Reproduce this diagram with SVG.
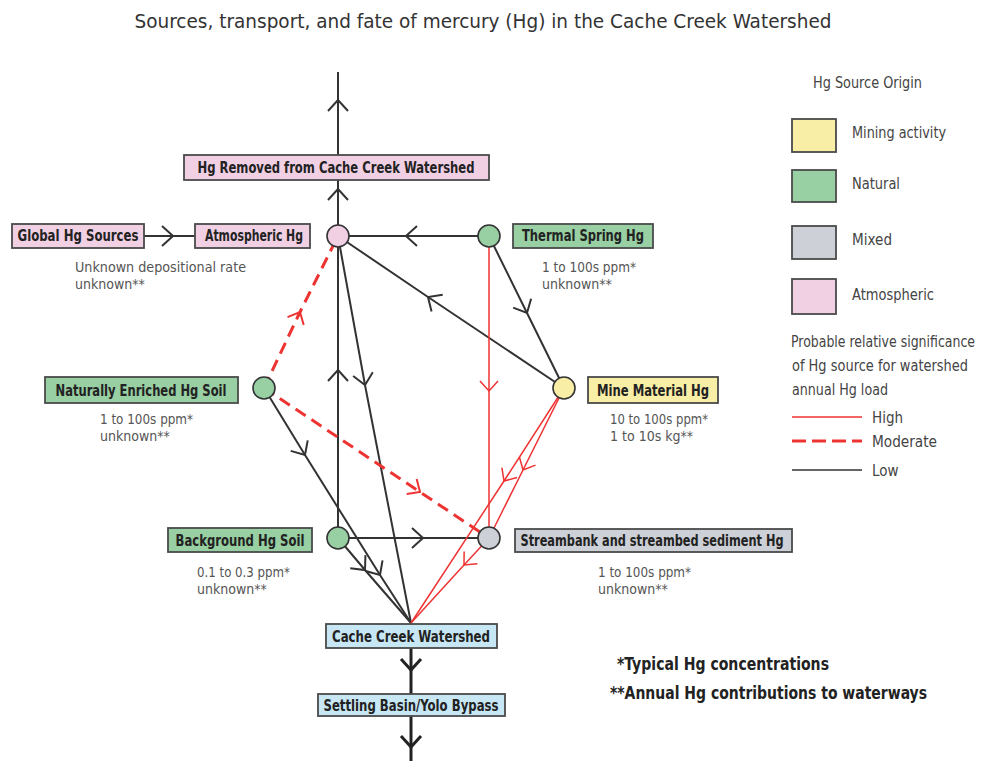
<svg xmlns="http://www.w3.org/2000/svg" width="986" height="761" viewBox="0 0 986 761">
<style>
.t{font-family:"Liberation Sans Narrow","DejaVu Sans Condensed","Liberation Sans",sans-serif;}
.lbl{font-size:15px;font-weight:bold;fill:#222;text-anchor:middle;}
.sub{font-size:14px;fill:#555;}
.leg{font-size:15px;fill:#444;}
.box{stroke:#4a4a4a;stroke-width:1.8;}
.circ{stroke:#333;stroke-width:1.6;}
.green{fill:#98cfa3;}
.pink{fill:#f1d0e4;}
.yellow{fill:#f8eea6;}
.gray{fill:#cdd0d6;}
.blue{fill:#c7e7f4;}
.blk{stroke:#333;stroke-width:2;fill:none;marker-mid:url(#chevK);}
.red{stroke:#ee3333;stroke-width:1.5;fill:none;marker-mid:url(#chevR);}
.dash{stroke:#ee3333;stroke-width:3;stroke-dasharray:12 7;fill:none;marker-mid:url(#chevR2);}
.thick{stroke:#222;stroke-width:3;fill:none;marker-mid:url(#chevT);}
</style>
<defs>
<marker id="chevK" markerUnits="userSpaceOnUse" markerWidth="30" markerHeight="30" refX="0" refY="0" viewBox="-15 -15 30 30" orient="auto" overflow="visible">
<path d="M-11,-10 L0,0 L-11,10" fill="none" stroke="#333" stroke-width="2"/>
</marker>
<marker id="chevT" markerUnits="userSpaceOnUse" markerWidth="30" markerHeight="30" refX="0" refY="0" viewBox="-15 -15 30 30" orient="auto" overflow="visible">
<path d="M-11,-10 L0,0 L-11,10" fill="none" stroke="#222" stroke-width="3"/>
</marker>
<marker id="chevR" markerUnits="userSpaceOnUse" markerWidth="30" markerHeight="30" refX="0" refY="0" viewBox="-15 -15 30 30" orient="auto" overflow="visible">
<path d="M-10,-9 L0,0 L-10,9" fill="none" stroke="#ee3333" stroke-width="1.5"/>
</marker>
<marker id="chevR2" markerUnits="userSpaceOnUse" markerWidth="30" markerHeight="30" refX="0" refY="0" viewBox="-15 -15 30 30" orient="auto" overflow="visible">
<path d="M-10,-9 L0,0 L-10,9" fill="none" stroke="#ee3333" stroke-width="2"/>
</marker>
</defs>
<rect width="986" height="761" fill="#fff"/>
<text class="t" x="483" y="28" font-size="20" fill="#333" text-anchor="middle" textLength="697" lengthAdjust="spacingAndGlyphs">Sources, transport, and fate of mercury (Hg) in the Cache Creek Watershed</text>

<g id="connectors">
<path class="blk" d="M338,236 L338,189 L338,180"/>
<path class="blk" d="M338,155 L338,100 L338,72"/>
<path class="blk" d="M144,236 L173,236 L195,236"/>
<path class="blk" d="M489,236 L406,236 L338,236"/>
<path class="blk" d="M564,388 L428,297 L338,236"/>
<path class="blk" d="M489,236 L527,313 L564,388"/>
<path class="blk" d="M338,538 L338,370 L338,236"/>
<path class="blk" d="M338,236 L365,385 L411,623"/>
<path class="blk" d="M264,388 L305,455 L380,575 L411,623"/>
<path class="blk" d="M338,538 L365,570 L411,623"/>
<path class="blk" d="M338,538 L423,538 L489,538"/>
<path class="red" d="M489,236 L489,391 L489,538"/>
<path class="red" d="M564,388 L504,481 L411,623"/>
<path class="red" d="M564,388 L523,470 L489,538"/>
<path class="red" d="M489,538 L464,565 L411,623"/>
<path class="dash" d="M264,388 L300,312 L338,236"/>
<path class="dash" d="M264,388 L420,492 L489,538"/>
<path class="thick" d="M411,648 L411,670 L411,694"/>
<path class="thick" d="M411,716 L411,747 L411,761"/>
</g>

<g id="hg-removed"><rect class="box pink" x="184" y="155" width="305" height="25"/><text class="t lbl" x="336" y="173" textLength="277" lengthAdjust="spacingAndGlyphs">Hg Removed from Cache Creek Watershed</text></g>
<g id="global"><rect class="box pink" x="12" y="224" width="132" height="24"/><text class="t lbl" x="78" y="241" textLength="121" lengthAdjust="spacingAndGlyphs">Global Hg Sources</text></g>
<g id="atmospheric"><rect class="box pink" x="195" y="224" width="115" height="24"/><text class="t lbl" x="254" y="241" textLength="98" lengthAdjust="spacingAndGlyphs">Atmospheric Hg</text>
<circle class="circ pink" cx="338" cy="236" r="11"/>
<text class="t sub" x="75" y="272" textLength="171" lengthAdjust="spacingAndGlyphs">Unknown depositional rate</text>
<text class="t sub" x="75" y="289">unknown**</text></g>
<g id="thermal"><rect class="box green" x="513" y="224" width="140" height="24"/><text class="t lbl" x="583" y="241" textLength="122" lengthAdjust="spacingAndGlyphs">Thermal Spring Hg</text>
<circle class="circ green" cx="489" cy="236" r="11"/>
<text class="t sub" x="542" y="272" textLength="94" lengthAdjust="spacingAndGlyphs">1 to 100s ppm*</text>
<text class="t sub" x="542" y="289">unknown**</text></g>
<g id="enriched"><rect class="box green" x="45" y="377" width="193" height="26"/><text class="t lbl" x="141" y="396" textLength="171" lengthAdjust="spacingAndGlyphs">Naturally Enriched Hg Soil</text>
<circle class="circ green" cx="264" cy="388" r="11"/>
<text class="t sub" x="100" y="424" textLength="93" lengthAdjust="spacingAndGlyphs">1 to 100s ppm*</text>
<text class="t sub" x="100" y="441">unknown**</text></g>
<g id="mine"><rect class="box yellow" x="588" y="377" width="130" height="26"/><text class="t lbl" x="653" y="396" textLength="112" lengthAdjust="spacingAndGlyphs">Mine Material Hg</text>
<circle class="circ yellow" cx="564" cy="388" r="11"/>
<text class="t sub" x="610" y="424" textLength="98" lengthAdjust="spacingAndGlyphs">10 to 100s ppm*</text>
<text class="t sub" x="610" y="441">1 to 10s kg**</text></g>
<g id="background"><rect class="box green" x="168" y="528" width="144" height="24"/><text class="t lbl" x="240" y="546" textLength="129" lengthAdjust="spacingAndGlyphs">Background Hg Soil</text>
<circle class="circ green" cx="338" cy="538" r="11"/>
<text class="t sub" x="197" y="577" textLength="93" lengthAdjust="spacingAndGlyphs">0.1 to 0.3 ppm*</text>
<text class="t sub" x="197" y="594">unknown**</text></g>
<g id="streambank"><rect class="box gray" x="515" y="529" width="277" height="23"/><text class="t lbl" x="652" y="546" textLength="263" lengthAdjust="spacingAndGlyphs">Streambank and streambed sediment Hg</text>
<circle class="circ gray" cx="489" cy="538" r="11"/>
<text class="t sub" x="598" y="577" textLength="93" lengthAdjust="spacingAndGlyphs">1 to 100s ppm*</text>
<text class="t sub" x="598" y="594">unknown**</text></g>
<g id="cache-creek"><rect class="box blue" x="326" y="624" width="171" height="24"/><text class="t lbl" x="411" y="642" textLength="158" lengthAdjust="spacingAndGlyphs">Cache Creek Watershed</text></g>
<g id="settling"><rect class="box blue" x="318" y="694" width="187" height="22"/><text class="t lbl" x="411" y="711" textLength="175" lengthAdjust="spacingAndGlyphs">Settling Basin/Yolo Bypass</text></g>

<g id="footnotes">
<text class="t" x="617" y="670" font-size="18" font-weight="bold" fill="#222" textLength="212" lengthAdjust="spacingAndGlyphs">*Typical Hg concentrations</text>
<text class="t" x="610" y="699" font-size="18" font-weight="bold" fill="#222" textLength="317" lengthAdjust="spacingAndGlyphs">**Annual Hg contributions to waterways</text>
</g>

<g id="legend">
<text class="t leg" x="813" y="88" textLength="109" lengthAdjust="spacingAndGlyphs">Hg Source Origin</text>
<rect class="box yellow" x="792" y="119" width="44" height="33"/>
<text class="t leg" x="852" y="138" textLength="94" lengthAdjust="spacingAndGlyphs">Mining activity</text>
<rect class="box green" x="792" y="170" width="44" height="32"/>
<text class="t leg" x="852" y="189" textLength="48" lengthAdjust="spacingAndGlyphs">Natural</text>
<rect class="box gray" x="792" y="226" width="44" height="33"/>
<text class="t leg" x="852" y="245" textLength="40" lengthAdjust="spacingAndGlyphs">Mixed</text>
<rect class="box pink" x="792" y="279" width="44" height="35"/>
<text class="t leg" x="852" y="300" textLength="82" lengthAdjust="spacingAndGlyphs">Atmospheric</text>
<text class="t leg" x="791" y="347" font-size="13" textLength="184" lengthAdjust="spacingAndGlyphs">Probable relative significance</text>
<text class="t leg" x="792" y="371" textLength="176" lengthAdjust="spacingAndGlyphs">of Hg source for watershed</text>
<text class="t leg" x="792" y="395" textLength="96" lengthAdjust="spacingAndGlyphs">annual Hg load</text>
<line x1="792" y1="417" x2="862" y2="417" stroke="#ee3333" stroke-width="1.5"/>
<text class="t leg" x="872" y="423">High</text>
<line x1="792" y1="441" x2="862" y2="441" stroke="#ee3333" stroke-width="3" stroke-dasharray="14 6"/>
<text class="t leg" x="872" y="447" textLength="65" lengthAdjust="spacingAndGlyphs">Moderate</text>
<line x1="792" y1="470" x2="862" y2="470" stroke="#333" stroke-width="1.5"/>
<text class="t leg" x="872" y="476">Low</text>
</g>
</svg>
